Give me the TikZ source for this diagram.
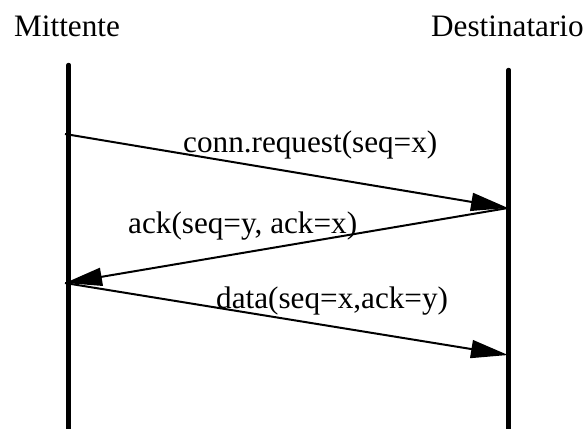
\documentclass[tikz,border=0pt]{standalone}
\usepackage{fontspec}
\setmainfont{Liberation Serif}
\usetikzlibrary{arrows.meta}
\begin{document}
\begin{tikzpicture}[x=1pt,y=-1pt,
  lifeline/.style={line width=4.5pt,line cap=round},
  msg/.style={line width=2pt,-{Triangle[length=37pt,width=18pt]}},
  lbl/.style={anchor=base west,inner sep=0pt,font=\fontsize{31.2}{36}\selectfont}]
\useasboundingbox (0,0) rectangle (585,428);
% lifelines
\coordinate (mtop) at (68.7,65);
\coordinate (mbot) at (68.7,440);
\coordinate (dtop) at (508.7,70);
\coordinate (dbot) at (508.7,440);
\draw[lifeline] (mtop) -- (mbot);
\draw[lifeline] (dtop) -- (dbot);
% titles
\node[lbl] (mitt) at (14,37) {Mittente};
\node[lbl] (dest) at (431,37) {Destinatario};
% message points
\coordinate (m1) at (65,134);
\coordinate (d1) at (508,208);
\coordinate (m2) at (65,283);
\coordinate (d2) at (508,355);
\draw[msg] (m1) -- (d1);
\draw[msg] (d1) -- (m2);
\draw[msg] (m2) -- (d2);
% labels
\node[lbl] (l1) at (183,152) {conn.request(seq=x)};
\node[lbl] (l2) at (128,233) {ack(seq=y, ack=x)};
\node[lbl] (l3) at (216,308) {data(seq=x,ack=y)};
\end{tikzpicture}
\end{document}
